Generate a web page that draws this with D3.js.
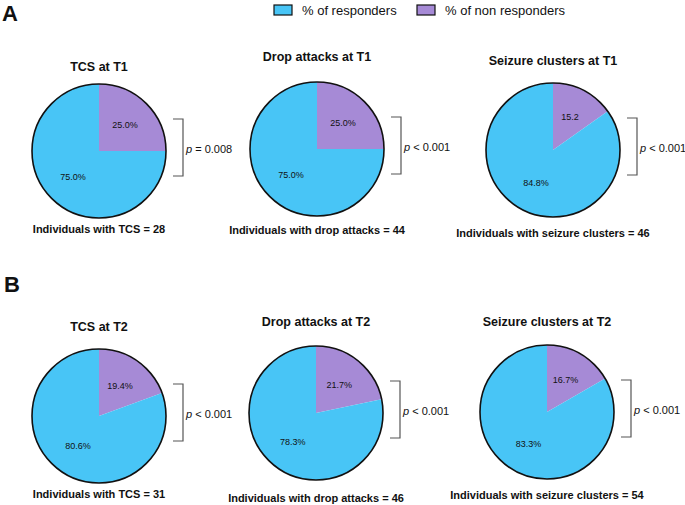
<!DOCTYPE html>
<html>
<head>
<meta charset="utf-8">
<script src="https://cdn.jsdelivr.net/npm/d3@7"></script>
<style>
  body { margin: 0; background: #fff; }
  text { font-family: "Liberation Sans", Arial, Helvetica, sans-serif; fill: #111; }
</style>
</head>
<body>
<svg id="chart"></svg>
<script>
var w = 685;
var h = 505;

// data
var titles = ["TCS at T1", "Drop attacks at T1", "Seizure clusters at T1",
              "TCS at T2", "Drop attacks at T2", "Seizure clusters at T2"];
var footers = ["Individuals with TCS = 28", "Individuals with drop attacks = 44", "Individuals with seizure clusters = 46",
               "Individuals with TCS = 31", "Individuals with drop attacks = 46", "Individuals with seizure clusters = 54"];
var responders = [75.0, 75.0, 84.8, 80.6, 78.3, 83.3];
var nonResponders = [25.0, 25.0, 15.2, 19.4, 21.7, 16.7];
var respLabels = ["75.0%", "75.0%", "84.8%", "80.6%", "78.3%", "83.3%"];
var nonLabels = ["25.0%", "25.0%", "15.2", "19.4%", "21.7%", "16.7%"];
var pOps = ["= 0.008", "< 0.001", "< 0.001", "< 0.001", "< 0.001", "< 0.001"];
var legendNames = ["% of responders", "% of non responders"];
var panelNames = ["A", "B"];

// layout (centres of each pie, title and footer offsets)
var layout = [
  {cx: 99,  cy: 151, ty: -84, fy: 78},
  {cx: 317, cy: 149, ty: -92, fy: 81},
  {cx: 553, cy: 150, ty: -89, fy: 83},
  {cx: 99,  cy: 416, ty: -89, fy: 78},
  {cx: 316, cy: 413, ty: -91, fy: 85},
  {cx: 547, cy: 412, ty: -90, fy: 83}
];
var r = 67;

var color = d3.scaleOrdinal().domain(legendNames).range(["#48C5F6", "#A68AD6"]);

var svg = d3.select("#chart").attr("width", w).attr("height", h);

// panel letters
svg.selectAll("text.panel").data(panelNames).enter().append("text")
  .attr("class", "panel")
  .attr("x", function(d, i) { return i == 0 ? 2 : 4; })
  .attr("y", function(d, i) { return i == 0 ? 21 : 292; })
  .style("font-size", "22px").style("font-weight", "bold")
  .text(function(d) { return d; });

// legend
var legX = [274, 417];
var leg = svg.selectAll("g.leg").data(legendNames).enter().append("g")
  .attr("class", "leg")
  .attr("transform", function(d, i) { return "translate(" + legX[i] + ",5)"; });
leg.append("rect").attr("width", 18).attr("height", 10)
  .attr("fill", function(d) { return color(d); })
  .attr("stroke", "#111").attr("stroke-width", 1.2);
leg.append("text").attr("x", 28).attr("y", 10)
  .style("font-size", "13px").text(function(d) { return d; });

var pie = d3.pie().sort(null).value(function(d) { return d.v; });
var arc = d3.arc().innerRadius(0).outerRadius(r);
var labelArc = d3.arc().innerRadius(r * 0.55).outerRadius(r * 0.55);

titles.forEach(function(t, i) {
  var L = layout[i];
  var g = svg.append("g").attr("transform", "translate(" + L.cx + "," + L.cy + ")");
  var data = [
    {name: legendNames[1], v: nonResponders[i], label: nonLabels[i]},
    {name: legendNames[0], v: responders[i], label: respLabels[i]}
  ];
  var arcs = pie(data);

  g.selectAll("path.slice").data(arcs).enter().append("path")
    .attr("class", "slice")
    .attr("d", arc)
    .attr("fill", function(d) { return color(d.data.name); });

  g.append("circle").attr("r", r).attr("fill", "none")
    .attr("stroke", "#111").attr("stroke-width", 1.6);

  g.selectAll("text.lab").data(arcs).enter().append("text")
    .attr("class", "lab")
    .attr("transform", function(d) { return "translate(" + labelArc.centroid(d) + ")"; })
    .attr("text-anchor", "middle").attr("dy", "0.35em")
    .style("font-size", "9px")
    .text(function(d) { return d.data.label; });

  g.append("text").attr("y", L.ty).attr("dy", "0.35em")
    .attr("text-anchor", "middle")
    .style("font-size", "12.5px").style("font-weight", "bold")
    .text(t);

  g.append("text").attr("y", L.fy).attr("dy", "0.35em")
    .attr("text-anchor", "middle")
    .style("font-size", "11px").style("font-weight", "bold")
    .text(footers[i]);

  // significance bracket
  g.append("path")
    .attr("d", "M" + (r + 7) + "," + (-32) + "H" + (r + 17) + "V" + 25 + "H" + (r + 7))
    .attr("fill", "none").attr("stroke", "#555").attr("stroke-width", 1.2);

  var pt = g.append("text").attr("x", r + 20).attr("y", -2).attr("dy", "0.35em")
    .style("font-size", "11px");
  pt.append("tspan").style("font-style", "italic").text("p");
  pt.append("tspan").text(" " + pOps[i]);
});
</script>
</body>
</html>
